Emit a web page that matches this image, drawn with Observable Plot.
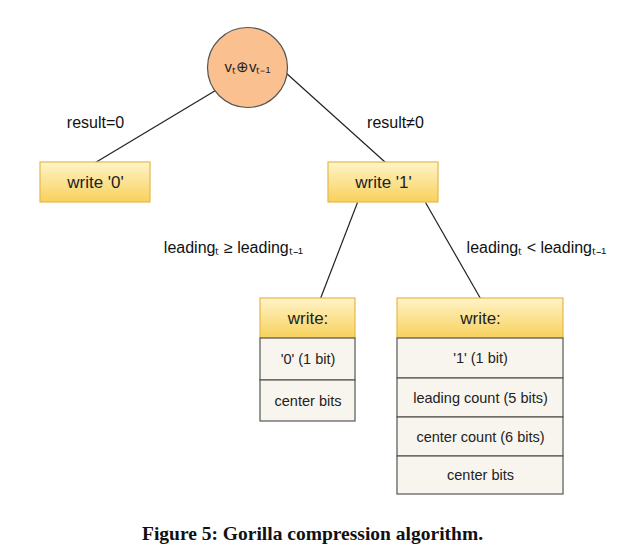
<!DOCTYPE html>
<html><head><meta charset="utf-8">
<script src="https://cdn.jsdelivr.net/npm/d3@7"></script>
<script src="https://cdn.jsdelivr.net/npm/@observablehq/plot@0.6"></script>
<style>body{margin:0;background:#fff}</style>
</head><body><div id="chart"></div>
<script>
// diagram boxes: [label, x1, x2, y1, y2, kind]
const boxes = [
  ["write '0'", 40, 150, 162, 202, "head"],
  ["write '1'", 328, 438, 162, 202, "head"],
  ["write:", 260, 355, 298, 338, "head"],
  ["'0' (1 bit)", 260, 355, 338, 380, "row"],
  ["center bits", 260, 355, 380, 421, "row"],
  ["write:", 397, 563, 298, 338, "head"],
  ["'1' (1 bit)", 397, 563, 338, 378, "row"],
  ["leading count (5 bits)", 397, 563, 378, 417, "row"],
  ["center count (6 bits)", 397, 563, 417, 456, "row"],
  ["center bits", 397, 563, 456, 494, "row"]
]
const edges = [
  [215, 90, 95, 162],
  [285, 72, 385, 162],
  [357, 202, 320, 298],
  [425, 202, 480, 298]
]
const labels = [
  ["result=0", 95, 122],
  ["result≠0", 395, 122],
  ["leadingₜ ≥ leadingₜ₋₁", 233, 247],
  ["leadingₜ < leadingₜ₋₁", 536, 247]
]
const root = [{ label: "vₜ⊕vₜ₋₁", x: 247, y: 67 }]

const B = boxes.map(([label, x1, x2, y1, y2, kind]) => ({ label, x1, x2, y1, y2, kind }))
const font = "Liberation Sans, Arial, sans-serif"

const chart = Plot.plot({
  width: 625, height: 556, margin: 0,
  x: { domain: [0, 625], range: [0, 625], axis: null },
  y: { domain: [0, 556], range: [0, 556], axis: null },
  style: { fontFamily: font, background: "#fff" },
  marks: [
    Plot.link(edges, { x1: d => d[0], y1: d => d[1], x2: d => d[2], y2: d => d[3], stroke: "#222", strokeWidth: 1.2 }),
    Plot.rect(B, { x1: "x1", x2: "x2", y1: "y1", y2: "y2",
      fill: d => d.kind === "head" ? "url(#yg)" : "#f8f5ee",
      stroke: d => d.kind === "head" ? "#e6b84a" : "#555", strokeWidth: 1.2 }),
    Plot.text(B, { x: d => (d.x1 + d.x2) / 2, y: d => (d.y1 + d.y2) / 2,
      text: "label", fontSize: d => d.kind === "head" ? 17 : 14.5, fill: "#222" }),
    Plot.dot(root, { x: "x", y: "y", r: 40, fill: "#fbc08f", stroke: "#555", strokeWidth: 1.2 }),
    Plot.text(root, { x: "x", y: "y", text: "label", fontSize: 15, fill: "#222" }),
    Plot.text(labels, { x: d => d[1], y: d => d[2], text: d => d[0], fontSize: 16, fill: "#111" }),
    Plot.text(["Figure 5: Gorilla compression algorithm."], { x: 312, y: 533, text: d => d,
      fontSize: 19.5, fontWeight: "bold", fontFamily: "Liberation Serif, serif", fill: "#111" })
  ]
})
const svg = d3.select(chart)
const g = svg.insert("defs", ":first-child").append("linearGradient")
  .attr("id", "yg").attr("x1", 0).attr("y1", 0).attr("x2", 0).attr("y2", 1)
g.append("stop").attr("offset", "0%").attr("stop-color", "#fff4c8")
g.append("stop").attr("offset", "100%").attr("stop-color", "#f8d15c")
d3.select("#chart").append(() => chart)
</script>
</body></html>
